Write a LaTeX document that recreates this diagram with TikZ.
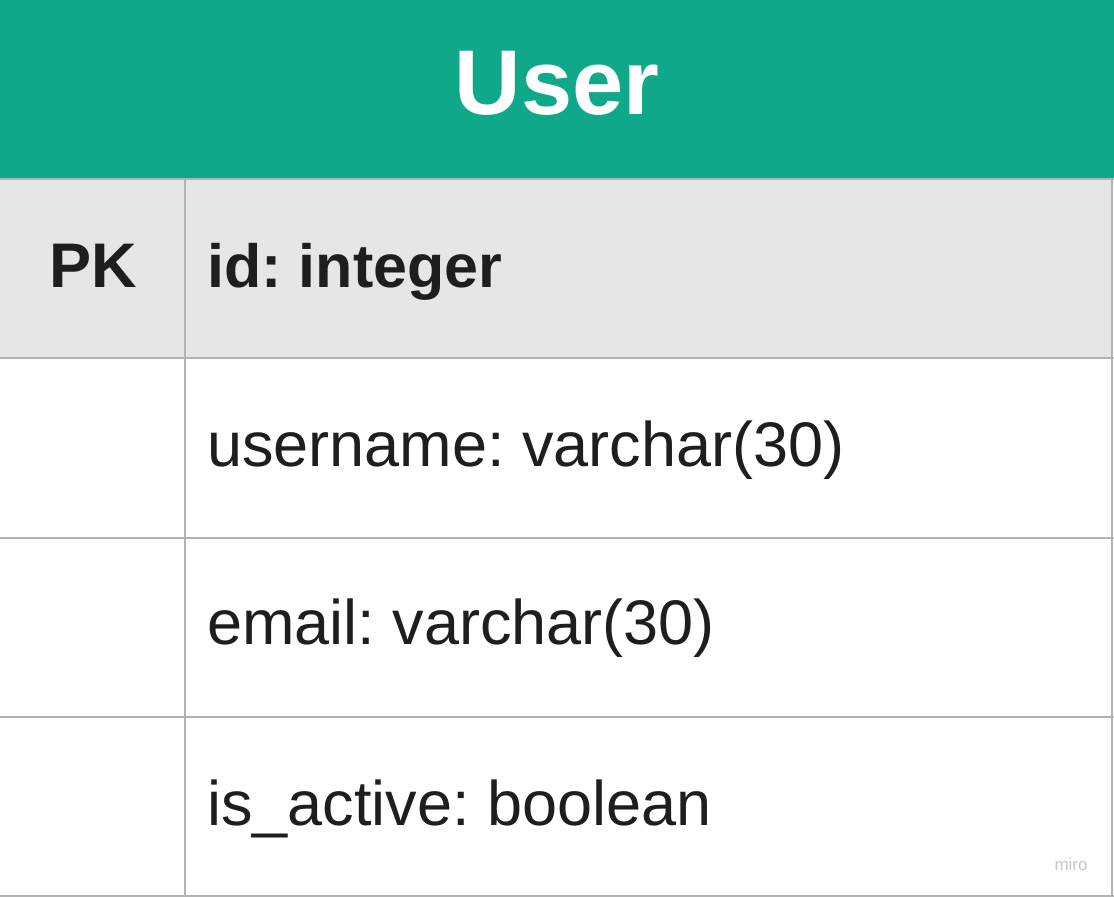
\documentclass[tikz,border=0pt]{standalone}
\usepackage{fontspec}
\setmainfont{Liberation Sans}
\usepackage{tikz}
\frenchspacing
\definecolor{er_green}{HTML}{0FA888}
\definecolor{er_rowgray}{HTML}{E6E6E6}
\definecolor{er_line}{HTML}{B3B3B3}
\definecolor{er_text}{HTML}{1E1E1E}
\definecolor{er_mark}{HTML}{C6C6D2}

\begin{document}
\begin{tikzpicture}[
    x=0.5pt, y=-0.5pt,
    gridline/.style={draw=er_line, line width=1.3pt},
    fieldtext/.style={anchor=base west, inner sep=0pt, text=er_text, font=\fontsize{31.5}{36}\selectfont},
    keytext/.style={anchor=base, inner sep=0pt, text=er_text, font=\fontsize{31.5}{36}\selectfont\bfseries}
]
\useasboundingbox (0,0) rectangle (1114,897);

% ----------------------------------------------------------
% Kopfzeile der Tabelle
% ----------------------------------------------------------
\fill[er_green] (0,0) rectangle (1114,179);
\node[anchor=base, inner sep=0pt, text=white, font=\fontsize{46}{52}\selectfont\bfseries]
    (title) at (557,115) {User};

% Primärschlüssel-Zeile (grau hinterlegt)
\fill[er_rowgray] (0,179) rectangle (1112,358);

% ----------------------------------------------------------
% Gitterlinien
% ----------------------------------------------------------
\foreach \ly in {179, 358, 538, 717, 896} {
    \draw[gridline] (0,\ly) -- (1114,\ly);
}
\draw[gridline] (185,179) -- (185,897);
\draw[gridline] (1112,179) -- (1112,897);

% ----------------------------------------------------------
% Spalteninhalte
% ----------------------------------------------------------
\node[keytext] (pk) at (93,288) {PK};
\node[fieldtext, font=\fontsize{30.5}{36}\selectfont\bfseries] (id) at (207,288) {id: integer};
\node[fieldtext] (username) at (207,467) {username: varchar(30)};
\node[fieldtext] (email) at (207,645) {email: varchar(30)};
\node[fieldtext] (isactive) at (207,825) {is\_active: boolean};

% Wasserzeichen
\node[anchor=base east, inner sep=0pt, text=er_mark, font=\fontsize{8.5}{10}\selectfont]
    (miro) at (1088,870) {miro};

\end{tikzpicture}
\end{document}
